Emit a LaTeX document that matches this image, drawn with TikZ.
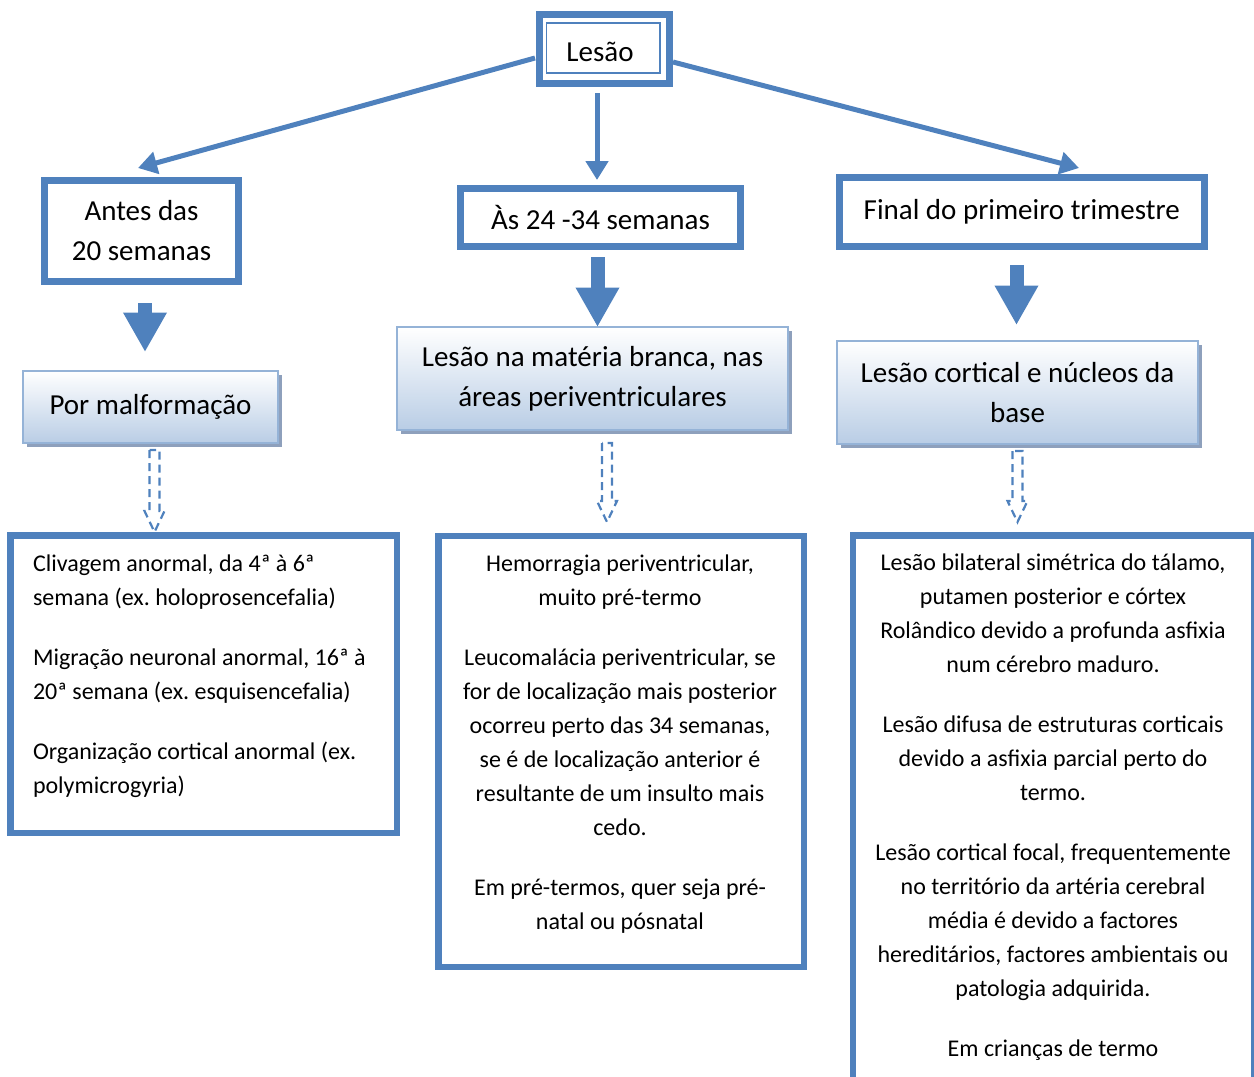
\documentclass[tikz,border=0pt]{standalone}
\usepackage{fontspec}
\setmainfont{Carlito}
\usetikzlibrary{arrows.meta,calc,shadows}
\definecolor{accent}{HTML}{4F81BD}
\definecolor{paleedge}{HTML}{95B3D7}
\definecolor{palefill}{HTML}{B9CDE5}
\definecolor{shadowgrey}{HTML}{8EA0BC}
\frenchspacing

% dashed hollow arrow: centre x, top y, tip y
\newcommand{\hollowdash}[3]{%
  \draw[hollowarrow] (#1-5,#2) -- (#1-5,#3-21) -- (#1-10,#3-21) -- (#1,#3)
    -- (#1+10,#3-21) -- (#1+5,#3-21) -- (#1+5,#2) -- cycle;}

\begin{document}
\begin{tikzpicture}[x=1pt,y=-1pt,
  heavybox/.style={draw=accent, line width=7pt, fill=white, rectangle,
    inner sep=0pt, outer sep=0pt, align=center, font=\fontsize{29}{40}\selectfont},
  shadedbox/.style={draw=paleedge, line width=1.5pt, top color=white,
    bottom color=palefill, rectangle, inner sep=0pt, outer sep=0pt, align=center,
    font=\fontsize{29}{40}\selectfont,
    drop shadow={shadow xshift=4pt, shadow yshift=-4pt, fill=shadowgrey, opacity=1}},
  framebox/.style={draw=accent, line width=6.5pt, rectangle, inner sep=0pt, outer sep=0pt},
  bodytext/.style={inner sep=0pt, outer sep=0pt, font=\fontsize{24}{34}\selectfont},
  thinarrow/.style={draw=accent, line width=5pt, -{Triangle[length=19pt,width=22pt]}},
  blockarrow/.style={draw=accent, line width=14pt, -{Triangle[length=39.5pt,width=41pt]}},
  hollowarrow/.style={draw=accent, line width=2.2pt, dash pattern=on 8pt off 5pt, line join=miter}
]
\useasboundingbox (0,0) rectangle (1254,1077);
\clip (0,0) rectangle (1254,1077);

% root
\node[heavybox, minimum width=130pt, minimum height=69pt] (top) at (604,49)
  {\raisebox{-3pt}[\height][\depth]{Lesão}\hspace*{8pt}};
\draw[accent, line width=1.5pt] ($(top.north west)+(7.5,8.5)$) rectangle ($(top.south east)+(-9,-10.5)$);

% periods
\node[heavybox, minimum width=194pt, minimum height=101pt] (b1) at (141.5,231) {Antes das\\20 semanas};
\node[heavybox, minimum width=280pt, minimum height=58pt] (b2) at (600.5,217.5) {Às 24 -34 semanas};
\node[heavybox, minimum width=364.5pt, minimum height=69pt] (b3) at (1021.75,212) {Final do primeiro trimestre};

% lesion types
\node[shadedbox, minimum width=255pt, minimum height=72pt] (m1) at (150.5,407) {Por malformação};
\node[shadedbox, minimum width=391pt, minimum height=103pt] (m2) at (592.5,378.5) {Lesão na matéria branca, nas\\áreas periventriculares};
\node[shadedbox, minimum width=361pt, minimum height=103pt] (m3) at (1017.5,392.5) {Lesão cortical e núcleos da\\base};

% detail frames
\node[framebox, minimum width=386.5pt, minimum height=297.5pt] (d1) at (203.75,684.25) {};
\node[framebox, minimum width=365.5pt, minimum height=431pt] (d2) at (621.25,751.5) {};
\node[framebox, minimum width=401pt, minimum height=564.5pt] (d3) at (1053.5,817.75) {};

\node[bodytext, anchor=north west, align=left] (t1) at ($(d1.north west)+(22.5,19)$)
  {Clivagem anormal, da 4ª à 6ª\\semana (ex. holoprosencefalia)\\[26pt]
   Migração neuronal anormal, 16ª à\\20ª semana (ex. esquisencefalia)\\[26pt]
   Organização cortical anormal (ex.\\polymicrogyria)};
\node[bodytext, anchor=north, align=center] (t2) at ($(d2.north)+(-1.25,18.5)$)
  {Hemorragia periventricular,\\muito pré-termo\\[26pt]
   Leucomalácia periventricular, se\\for de localização mais posterior\\ocorreu perto das 34 semanas,\\se é de localização anterior é\\resultante de um insulto mais\\cedo.\\[26pt]
   Em pré-termos, quer seja pré-\\natal ou pósnatal};
\node[bodytext, anchor=north, align=center] (t3) at ($(d3.north)+(-0.5,18.5)$)
  {Lesão bilateral simétrica do tálamo,\\putamen posterior e córtex\\Rolândico devido a profunda asfixia\\num cérebro maduro.\\[26pt]
   Lesão difusa de estruturas corticais\\devido a asfixia parcial perto do\\termo.\\[26pt]
   Lesão cortical focal, frequentemente\\no território da artéria cerebral\\média é devido a factores\\hereditários, factores ambientais ou\\patologia adquirida.\\[26pt]
   Em crianças de termo};

% connectors from the root
\draw[thinarrow] ($(top.west)+(-4,9)$) -- ($(b1.north)+(-3.5,-12.5)$);
\draw[thinarrow] ($(top.south)+(-7,9.5)$) -- ($(b2.north)+(-3.5,-8.5)$);
\draw[thinarrow] ($(top.east)+(4,13)$) -- ($(b3.north)+(57.25,-9.5)$);

% block arrows between periods and lesion types
\draw[blockarrow] ($(b1.south)+(3.5,21.5)$) -- ($(m1.north)+(-5.5,-19)$);
\draw[blockarrow] ($(b2.south)+(-3,10.5)$) -- ($(m2.north)+(5,0)$);
\draw[blockarrow] ($(b3.south)+(-5.25,18.5)$) -- ($(m3.north)+(-1,-16)$);

% dashed hollow arrows to the detail frames
\hollowdash{154.5}{450}{532}
\hollowdash{607}{443}{522}
\hollowdash{1017.5}{451}{522}
\end{tikzpicture}
\end{document}
